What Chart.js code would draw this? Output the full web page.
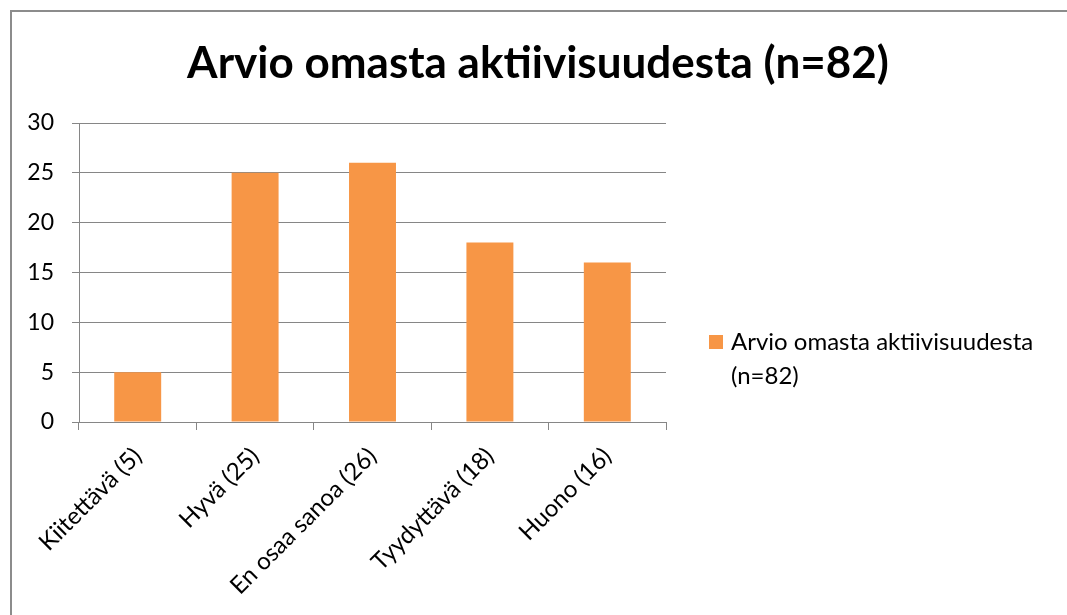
<!DOCTYPE html>
<html>
<head>
<meta charset="utf-8">
<script src="https://cdn.jsdelivr.net/npm/chart.js@4/dist/chart.umd.min.js"></script>
<style>
  html, body { margin: 0; padding: 0; background: #fff; }
  #wrap { position: relative; width: 1067px; height: 615px; overflow: hidden; }
  #frame { position: absolute; left: 10px; top: 10px; width: 2000px; height: 2000px;
           border-left: 2px solid #8c8c8c; border-top: 2px solid #8c8c8c; }
  canvas { position: absolute; left: 0; top: 0; }
</style>
</head>
<body>
<div id="wrap">
  <div id="frame"></div>
  <canvas id="myChart" width="1067" height="615"></canvas>
</div>
<script>
// chart data
const categories = ['Kiitettävä (5)', 'Hyvä (25)', 'En osaa sanoa (26)', 'Tyydyttävä (18)', 'Huono (16)'];
const answers = [5, 25, 26, 18, 16];
const seriesName = 'Arvio omasta aktiivisuudesta (n=82)';
const legendLines = ['Arvio omasta aktiivisuudesta', '(n=82)'];
const yTicks = [0, 5, 10, 15, 20, 25, 30];

const FONT = 'Lato, "Open Sans", sans-serif';
const GRID = '#868686';
const ORANGE = '#F79646';

// title over the full width + legend on the right in two lines
const decorations = {
  id: 'decorations',
  afterDraw(chart) {
    const ctx = chart.ctx;
    ctx.save();
    ctx.fillStyle = '#000';
    ctx.textBaseline = 'alphabetic';
    ctx.font = 'bold 44px ' + FONT;
    ctx.textAlign = 'center';
    ctx.fillText(seriesName, 538, 78);

    ctx.fillStyle = ORANGE;
    ctx.fillRect(709, 335, 14, 14);
    ctx.fillStyle = '#000';
    ctx.font = '24px ' + FONT;
    ctx.textAlign = 'left';
    legendLines.forEach((line, i) => ctx.fillText(line, 731, 350 + i * 34));
    ctx.restore();
  }
};

const chartConfig = {
  type: 'bar',
  data: {
    labels: categories,
    datasets: [{
      label: seriesName,
      data: answers,
      backgroundColor: ORANGE,
      barPercentage: 0.4,
      categoryPercentage: 1.0
    }]
  },
  options: {
    responsive: false,
    animation: false,
    layout: { padding: { left: 0, right: 401, top: 123, bottom: 0 } },
    plugins: {
      legend: { display: false },
      tooltip: { enabled: false },
      title: { display: false }
    },
    scales: {
      x: {
        offset: true,
        grid: { display: true, drawOnChartArea: false, drawTicks: true, tickLength: 8, color: GRID, offset: true },
        border: { display: true, color: GRID, width: 1 },
        ticks: { color: '#000', font: { family: FONT, size: 24 }, minRotation: 45, maxRotation: 45, padding: 12 },
        afterFit(scale) { scale.height = 193; }
      },
      y: {
        min: 0,
        max: 30,
        afterBuildTicks(scale) { scale.ticks = yTicks.map(v => ({ value: v })); },
        grid: { color: GRID, tickLength: 7, lineWidth: 1 },
        border: { display: true, color: GRID, width: 1 },
        ticks: { color: '#000', font: { family: FONT, size: 23 }, padding: 18 },
        afterFit(scale) { scale.width = 79; }
      }
    }
  },
  plugins: [decorations]
};

new Chart(document.getElementById('myChart'), chartConfig);
</script>
</body>
</html>
